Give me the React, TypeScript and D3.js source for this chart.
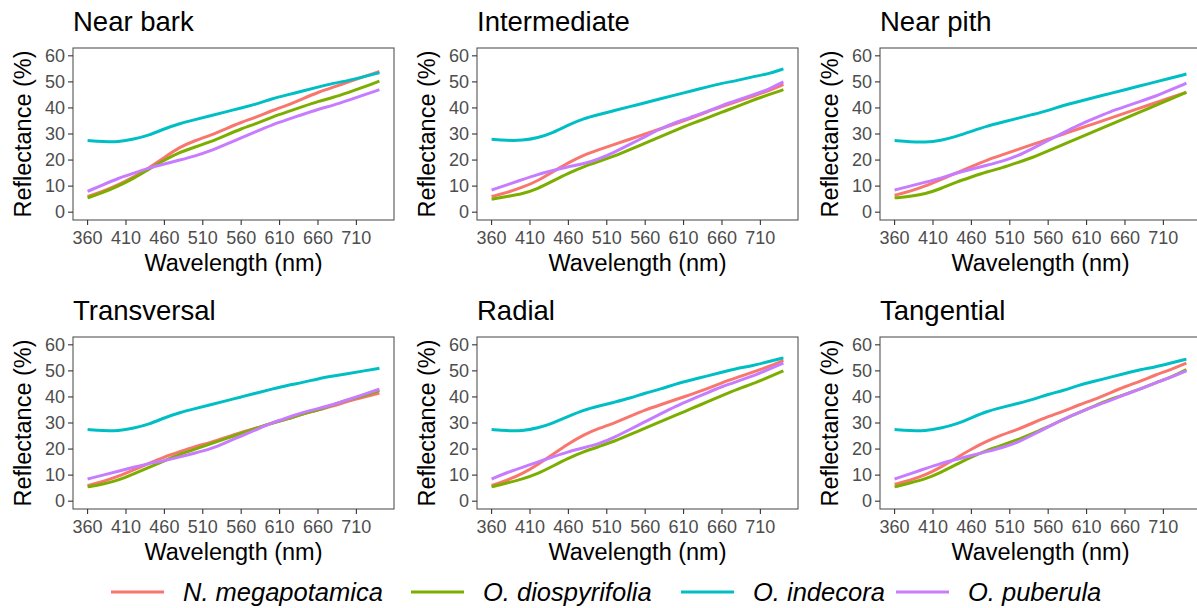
import React from "react";
import * as d3 from "d3";

const wavelengths = [360, 380, 400, 420, 440, 460, 480, 500, 520, 540, 560, 580, 600, 620, 640, 660, 680, 700, 720, 740];
const xTicks = [360, 410, 460, 510, 560, 610, 660, 710];
const yTicks = [0, 10, 20, 30, 40, 50, 60];
const species = ["N. megapotamica", "O. diospyrifolia", "O. indecora", "O. puberula"];
const colors = ["#F8766D", "#7CAE00", "#00BFC4", "#C77CFF"];
const panelTitles = ["Near bark", "Intermediate", "Near pith", "Transversal", "Radial", "Tangential"];

// Near bark
const nearBarkMeg = [6, 8, 10.5, 13.5, 17, 21, 25, 27.5, 29.5, 32, 34.5, 36.5, 39, 41, 43.5, 46, 48, 50, 52, 54];
const nearBarkDio = [5.5, 7.5, 10, 13, 16.5, 20, 23, 25, 27, 29.5, 32, 34, 36.5, 38.5, 40.5, 42.5, 44, 46, 48, 50.3];
const nearBarkInd = [27.5, 27, 27, 28, 29.5, 32, 34, 35.5, 37, 38.5, 40, 41.5, 43.5, 45, 46.5, 48, 49.5, 50.5, 52, 53.5];
const nearBarkPub = [8, 10.5, 13, 15, 17, 18.5, 20, 21.5, 23.5, 26, 28.5, 31, 33.5, 35.5, 37.5, 39.5, 41, 43, 45, 47];
// Intermediate
const interMeg = [6, 7.5, 9.5, 12, 15.5, 19, 22, 24, 26, 28, 30, 32, 34, 36, 38.5, 40.5, 42.5, 44.5, 46.5, 49];
const interDio = [5, 6, 7, 9, 12, 15, 17.5, 19.5, 21.5, 24, 26.5, 29, 31.5, 34, 36, 38.5, 40.5, 43, 45, 47];
const interInd = [28, 27.5, 27.5, 28.5, 30.5, 33.5, 36, 37.5, 39, 40.5, 42, 43.5, 45, 46.5, 48, 49.5, 50.5, 52, 53, 55];
const interPub = [8.5, 10.5, 12.5, 14.5, 16, 17.5, 18.5, 20.5, 23, 26, 29, 32, 34.5, 36.5, 38.5, 41, 43, 45, 47, 50];
// Near pith
const pithMeg = [6.5, 8, 10, 12.5, 15, 17.5, 20, 22, 24, 26, 28, 30, 32, 34, 36, 38, 40, 42, 44, 46];
const pithDio = [5.5, 6, 7, 9, 11.5, 13.5, 15.5, 17, 19, 21, 23.5, 26, 28.5, 31, 33.5, 36, 38.5, 41, 43.5, 46];
const pithInd = [27.5, 27, 26.8, 27.5, 29, 31, 33, 34.5, 36, 37.5, 39, 41, 42.5, 44, 45.5, 47, 48.5, 50, 51.5, 53];
const pithPub = [8.5, 10, 11.5, 13, 15, 16.5, 18, 19.5, 21.5, 24.5, 27.5, 30.5, 33.5, 36, 38.5, 40.5, 42.5, 44.5, 47, 49.5];
// Transversal
const transMeg = [6, 7.5, 9.5, 12, 14.5, 17, 19, 21, 22.5, 24.5, 26.5, 28, 30, 31.5, 33.5, 35, 36.5, 38.5, 40, 41.5];
const transDio = [5.5, 6.5, 8, 10.5, 13, 15.5, 18, 20, 22, 24, 26, 28, 30, 31.5, 33.5, 35, 37, 39, 40.5, 42.5];
const transInd = [27.5, 27, 27, 28, 29.5, 32, 34, 35.5, 37, 38.5, 40, 41.5, 43, 44.5, 45.5, 47, 48, 49, 50, 51];
const transPub = [8.5, 10, 11.5, 13, 14.5, 15.5, 17, 18.5, 20, 22.5, 25, 27.5, 30, 32, 34, 35.5, 37, 39, 41, 43];
// Radial
const radMeg = [6, 8, 10.5, 14, 18, 22, 25.5, 28, 30, 32.5, 35, 37, 39, 41, 43, 45.5, 47.5, 49.5, 51.5, 54];
const radDio = [5.5, 7, 8.5, 10.5, 13.5, 16.5, 19, 21, 23, 25.5, 28, 30.5, 33, 35.5, 38, 40.5, 43, 45, 47.5, 50];
const radInd = [27.5, 27, 27, 28, 30, 32.5, 35, 36.5, 38, 39.5, 41.5, 43, 45, 46.5, 48, 49.5, 51, 52, 53.5, 55];
const radPub = [8.5, 11, 13, 15, 17, 19, 20.5, 22, 24.5, 27.5, 30.5, 33.5, 36.5, 39, 41.5, 44, 46, 48, 50.5, 53];
// Tangential
const tanMeg = [6.5, 8, 10, 13, 16.5, 20, 23, 25.5, 27.5, 30, 32.5, 34.5, 37, 39, 41.5, 44, 46, 48.5, 50.5, 53];
const tanDio = [5.5, 7, 8.5, 11, 14, 17, 19.5, 21.5, 23.5, 26, 28.5, 31.5, 34, 36.5, 39, 41, 43, 45.5, 47.5, 50.5];
const tanInd = [27.5, 27, 27, 28, 29.5, 32, 34.5, 36, 37.5, 39, 41, 42.5, 44.5, 46, 47.5, 49, 50.5, 51.5, 53, 54.5];
const tanPub = [8.5, 10.5, 12.5, 14.5, 16, 17.5, 19, 20.5, 22.5, 25.5, 28.5, 31.5, 34, 36.5, 38.5, 41, 43, 45.5, 47.5, 50];

const panelSeries = [
  [nearBarkMeg, nearBarkDio, nearBarkInd, nearBarkPub],
  [interMeg, interDio, interInd, interPub],
  [pithMeg, pithDio, pithInd, pithPub],
  [transMeg, transDio, transInd, transPub],
  [radMeg, radDio, radInd, radPub],
  [tanMeg, tanDio, tanInd, tanPub],
];

const FONT = "'Liberation Sans', Arial, sans-serif";
const panelLefts = [73, 477, 880];
const panelTops = [48, 337];
const PW = 321;
const PH = 172;

function Panel({ idx }: { idx: number }) {
  const col = idx % 3;
  const row = Math.floor(idx / 3);
  const left = panelLefts[col];
  const top = panelTops[row];
  const x = d3.scaleLinear().domain([341, 759]).range([left, left + PW]);
  const y = d3.scaleLinear().domain([-3, 63]).range([top + PH, top]);
  const line = d3
    .line<[number, number]>()
    .x((d) => x(d[0]))
    .y((d) => y(d[1]))
    .curve(d3.curveBasis);
  const series = panelSeries[idx];
  const clipId = `clip${idx}`;
  return (
    <g>
      <text x={left} y={top - 17} fontSize={27.5} fill="#000" fontFamily={FONT}>
        {panelTitles[idx]}
      </text>
      <defs>
        <clipPath id={clipId}>
          <rect x={left} y={top} width={PW} height={PH} />
        </clipPath>
      </defs>
      <g clipPath={`url(#${clipId})`}>
        {series.map((vals, si) => (
          <path
            key={si}
            d={line(wavelengths.map((w, i) => [w, vals[i]] as [number, number])) || ""}
            fill="none"
            stroke={colors[si]}
            strokeWidth={3}
            strokeLinecap="butt"
          />
        ))}
      </g>
      <rect x={left} y={top} width={PW} height={PH} fill="none" stroke="#555" strokeWidth={1.1} />
      {yTicks.map((t) => (
        <g key={t}>
          <line x1={left - 5} x2={left} y1={y(t)} y2={y(t)} stroke="#333" strokeWidth={1.1} />
          <text
            x={left - 8}
            y={y(t)}
            dy="0.35em"
            textAnchor="end"
            fontSize={18}
            fill="#4d4d4d"
            fontFamily={FONT}
          >
            {t}
          </text>
        </g>
      ))}
      {xTicks.map((t) => (
        <g key={t}>
          <line x1={x(t)} x2={x(t)} y1={top + PH} y2={top + PH + 5} stroke="#333" strokeWidth={1.1} />
          <text
            x={x(t)}
            y={top + PH + 24}
            textAnchor="middle"
            fontSize={18}
            fill="#4d4d4d"
            fontFamily={FONT}
          >
            {t}
          </text>
        </g>
      ))}
      <text
        x={left + PW / 2}
        y={top + PH + 51}
        textAnchor="middle"
        fontSize={23.5}
        fill="#000"
        fontFamily={FONT}
      >
        Wavelength (nm)
      </text>
      <text
        transform={`translate(${left - 42},${top + PH / 2}) rotate(-90)`}
        textAnchor="middle"
        fontSize={23.5}
        fill="#000"
        fontFamily={FONT}
      >
        Reflectance (%)
      </text>
    </g>
  );
}

const legendLineX = [111, 411, 681, 896];

export default function App() {
  return (
    <svg
      width={1197}
      height={608}
      style={{ position: "absolute", left: 0, top: 0, background: "#fff" }}
    >
      <rect x={0} y={0} width={1197} height={608} fill="#fff" />
      {panelTitles.map((_, i) => (
        <Panel key={i} idx={i} />
      ))}
      {species.map((s, i) => (
        <g key={s}>
          <line
            x1={legendLineX[i]}
            x2={legendLineX[i] + 53}
            y1={592}
            y2={592}
            stroke={colors[i]}
            strokeWidth={3}
          />
          <text
            x={legendLineX[i] + 72}
            y={592}
            dy="0.35em"
            fontSize={25.5}
            fontStyle="italic"
            fill="#000"
            fontFamily={FONT}
          >
            {s}
          </text>
        </g>
      ))}
    </svg>
  );
}
